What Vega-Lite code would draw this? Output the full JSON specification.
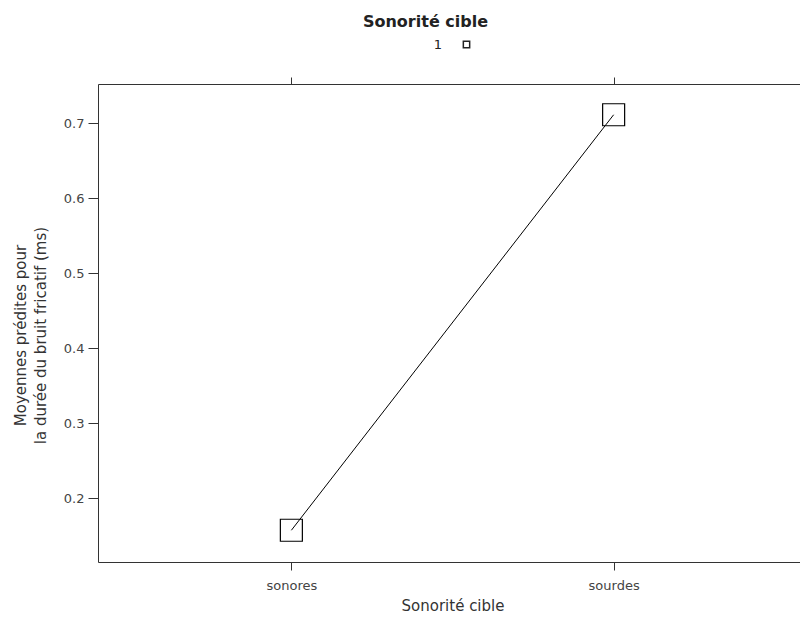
{
  "$schema": "https://vega.github.io/schema/vega-lite/v6.json",
  "autosize": {"type": "none"},
  "padding": {"left": 98, "top": 84, "right": 0, "bottom": 61},
  "width": 709,
  "height": 478,
  "background": "white",
  "title": {"text": "Sonorité cible", "anchor": "middle", "dx": -27, "offset": 8, "font": "DejaVu Sans", "fontSize": 16, "fontWeight": "bold", "color": "#222"},
  "data": {"values": [
    {"cible": "sonores", "x": 1, "moyenne": 0.157, "groupe": "1"},
    {"cible": "sourdes", "x": 2, "moyenne": 0.711, "groupe": "1"}
  ]},
  "config": {
    "view": {"stroke": "#333", "strokeWidth": 1},
    "axis": {"labelFont": "DejaVu Sans", "titleFont": "DejaVu Sans", "labelColor": "#444", "titleColor": "#333", "tickColor": "#333", "domain": false, "grid": false}
  },
  "encoding": {
    "x": {"field": "x", "type": "quantitative", "scale": {"domain": [0.4, 2.6], "nice": false, "zero": false}},
    "y": {"field": "moyenne", "type": "quantitative", "scale": {"domain": [0.1147, 0.752], "nice": false, "zero": false},
      "axis": {"values": [0.2, 0.3, 0.4, 0.5, 0.6, 0.7], "format": ".1f", "tickSize": 10, "labelPadding": 4, "labelFontSize": 13,
        "title": ["Moyennes prédites pour", "la durée du bruit fricatif (ms)"], "titleFontSize": 15, "titleFontWeight": "normal", "titlePadding": 15, "titleLineHeight": 20, "titleY": 251}}
  },
  "layer": [
    {"mark": {"type": "line", "color": "black", "strokeWidth": 1},
     "encoding": {"x": {"field": "x", "type": "quantitative", "axis": {"orient": "top", "values": [1, 2], "labels": false, "tickSize": 7, "title": null}}}},
    {"mark": {"type": "point", "filled": false, "size": 484, "strokeWidth": 1.2, "opacity": 1},
     "encoding": {
       "x": {"field": "x", "type": "quantitative", "axis": {"orient": "bottom", "values": [1, 2], "labelExpr": "datum.value == 1 ? 'sonores' : 'sourdes'", "tickSize": 8, "labelPadding": 9, "labelFontSize": 13, "title": "Sonorité cible", "titleFontSize": 15, "titleFontWeight": "normal", "titlePadding": 6}},
       "shape": {"field": "groupe", "type": "nominal", "scale": {"range": ["square"]},
         "legend": {"orient": "none", "legendX": 362, "legendY": -46, "title": null, "symbolSize": 40, "symbolStrokeColor": "#222", "symbolStrokeWidth": 1.5, "labelAlign": "right", "labelOffset": -31, "labelFontSize": 13, "labelFont": "DejaVu Sans", "labelColor": "#222"}},
       "color": {"value": "black"}
     }}
  ],
  "resolve": {"axis": {"x": "independent"}}
}
